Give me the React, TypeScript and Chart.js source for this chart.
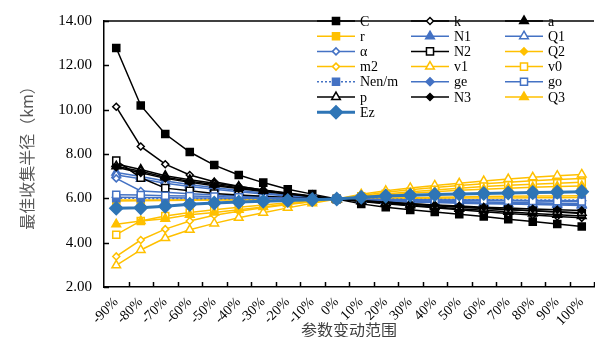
import React, { useEffect, useRef } from "react";
import { Chart, registerables } from "chart.js";
Chart.register(...registerables);

const categories = ["-90%", "-80%", "-70%", "-60%", "-50%", "-40%", "-30%", "-20%", "-10%", "0%", "10%", "20%", "30%", "40%", "50%", "60%", "70%", "80%", "90%", "100%"];
const yTicks = [2, 4, 6, 8, 10, 12, 14];

const C = [12.78, 10.19, 8.9, 8.09, 7.5, 7.05, 6.71, 6.41, 6.19, 5.97, 5.75, 5.6, 5.48, 5.38, 5.28, 5.18, 5.06, 4.95, 4.84, 4.73];
const K = [10.13, 8.34, 7.54, 7.05, 6.75, 6.55, 6.38, 6.22, 6.08, 5.97, 5.86, 5.76, 5.66, 5.57, 5.48, 5.4, 5.32, 5.25, 5.18, 5.12];
const A = [7.55, 7.3, 7.02, 6.84, 6.68, 6.53, 6.38, 6.24, 6.1, 5.97, 5.87, 5.78, 5.69, 5.61, 5.53, 5.46, 5.39, 5.32, 5.26, 5.2];
const R = [5.88, 5.89, 5.9, 5.91, 5.92, 5.93, 5.94, 5.95, 5.96, 5.97, 5.98, 5.99, 6.0, 6.0, 6.01, 6.02, 6.02, 6.03, 6.03, 6.04];
const N1 = [7.17, 6.98, 6.78, 6.62, 6.48, 6.36, 6.24, 6.14, 6.05, 5.97, 5.92, 5.88, 5.84, 5.81, 5.78, 5.76, 5.74, 5.72, 5.7, 5.68];
const Q1 = [7.05, 6.88, 6.68, 6.53, 6.41, 6.3, 6.2, 6.11, 6.03, 5.97, 5.93, 5.89, 5.86, 5.83, 5.81, 5.79, 5.77, 5.75, 5.74, 5.72];
const ALPHA = [6.9, 6.33, 6.27, 6.21, 6.16, 6.11, 6.07, 6.03, 6.0, 5.97, 5.94, 5.91, 5.89, 5.87, 5.85, 5.83, 5.81, 5.8, 5.78, 5.77];
const N2 = [7.7, 6.93, 6.46, 6.34, 6.22, 6.15, 6.09, 6.04, 6.0, 5.97, 5.9, 5.83, 5.76, 5.69, 5.62, 5.56, 5.5, 5.44, 5.38, 5.32];
const Q2 = [5.92, 5.92, 5.93, 5.94, 5.94, 5.95, 5.95, 5.96, 5.96, 5.97, 5.99, 6.01, 6.03, 6.05, 6.06, 6.08, 6.09, 6.1, 6.11, 6.12];
const M2 = [3.38, 4.12, 4.61, 4.98, 5.24, 5.42, 5.57, 5.72, 5.85, 5.97, 6.13, 6.27, 6.39, 6.49, 6.58, 6.66, 6.73, 6.79, 6.85, 6.9];
const V1 = [2.98, 3.67, 4.21, 4.58, 4.87, 5.12, 5.35, 5.57, 5.78, 5.97, 6.18, 6.34, 6.47, 6.58, 6.68, 6.78, 6.87, 6.95, 7.02, 7.08];
const V0 = [4.36, 4.98, 5.2, 5.36, 5.48, 5.6, 5.7, 5.8, 5.89, 5.97, 6.09, 6.2, 6.3, 6.38, 6.46, 6.53, 6.59, 6.64, 6.68, 6.72];
const NENM = [6.0, 6.0, 5.99, 5.99, 5.98, 5.98, 5.98, 5.97, 5.97, 5.97, 5.96, 5.96, 5.95, 5.95, 5.94, 5.94, 5.93, 5.93, 5.92, 5.92];
const GE = [6.05, 6.04, 6.03, 6.02, 6.01, 6.0, 5.99, 5.98, 5.98, 5.97, 5.96, 5.95, 5.94, 5.93, 5.92, 5.92, 5.91, 5.9, 5.9, 5.89];
const GO = [6.16, 6.15, 6.12, 6.1, 6.08, 6.05, 6.03, 6.01, 5.99, 5.97, 5.95, 5.94, 5.93, 5.92, 5.91, 5.9, 5.89, 5.88, 5.87, 5.86];
const P = [7.45, 7.22, 6.95, 6.77, 6.62, 6.48, 6.34, 6.21, 6.08, 5.97, 5.88, 5.8, 5.73, 5.66, 5.6, 5.54, 5.49, 5.44, 5.39, 5.35];
const N3 = [7.4, 7.15, 6.9, 6.72, 6.57, 6.44, 6.31, 6.19, 6.07, 5.97, 5.89, 5.82, 5.76, 5.7, 5.65, 5.6, 5.56, 5.52, 5.48, 5.45];
const Q3 = [4.83, 4.98, 5.08, 5.26, 5.36, 5.48, 5.61, 5.74, 5.86, 5.97, 6.06, 6.15, 6.23, 6.3, 6.36, 6.41, 6.46, 6.5, 6.53, 6.56];
const EZ = [5.55, 5.57, 5.64, 5.73, 5.79, 5.83, 5.87, 5.9, 5.94, 5.97, 6.05, 6.1, 6.14, 6.17, 6.2, 6.22, 6.24, 6.26, 6.28, 6.3];

const BLACK = "#000000";
const ORANGE = "#FFC000";
const BLUE = "#4472C4";
const EZBLUE = "#2E75B6";

type S = { label: string; data: number[]; color: string; shape: string; r: number; open: boolean; width?: number; dash?: number[] };
const series: S[] = [
  { label: "C", data: C, color: BLACK, shape: "rect", r: 5, open: false },
  { label: "k", data: K, color: BLACK, shape: "rectRot", r: 3.5, open: true },
  { label: "a", data: A, color: BLACK, shape: "triangle", r: 5, open: false },
  { label: "r", data: R, color: ORANGE, shape: "rect", r: 5, open: false },
  { label: "N1", data: N1, color: BLUE, shape: "triangle", r: 5, open: false },
  { label: "Q1", data: Q1, color: BLUE, shape: "triangle", r: 5, open: true },
  { label: "α", data: ALPHA, color: BLUE, shape: "rectRot", r: 3.5, open: true },
  { label: "N2", data: N2, color: BLACK, shape: "rect", r: 5, open: true },
  { label: "Q2", data: Q2, color: ORANGE, shape: "rectRot", r: 3.5, open: false },
  { label: "m2", data: M2, color: ORANGE, shape: "rectRot", r: 3.5, open: true },
  { label: "v1", data: V1, color: ORANGE, shape: "triangle", r: 5, open: true },
  { label: "v0", data: V0, color: ORANGE, shape: "rect", r: 5, open: true },
  { label: "Nen/m", data: NENM, color: BLUE, shape: "rect", r: 5, open: false, dash: [2, 2] },
  { label: "ge", data: GE, color: BLUE, shape: "rectRot", r: 4, open: false },
  { label: "go", data: GO, color: BLUE, shape: "rect", r: 5, open: true },
  { label: "p", data: P, color: BLACK, shape: "triangle", r: 5, open: true },
  { label: "N3", data: N3, color: BLACK, shape: "rectRot", r: 3.5, open: false },
  { label: "Q3", data: Q3, color: ORANGE, shape: "triangle", r: 5, open: false },
  { label: "Ez", data: EZ, color: EZBLUE, shape: "rectRot", r: 6.5, open: false, width: 3 },
];

function drawMarker(ctx: CanvasRenderingContext2D, s: S, x: number, y: number) {
  ctx.save();
  ctx.beginPath();
  const r = s.r;
  if (s.shape === "rect") {
    const h = Math.SQRT1_2 * r;
    ctx.rect(x - h, y - h, 2 * h, 2 * h);
  } else if (s.shape === "rectRot") {
    ctx.moveTo(x - r, y);
    ctx.lineTo(x, y - r);
    ctx.lineTo(x + r, y);
    ctx.lineTo(x, y + r);
    ctx.closePath();
  } else {
    let rad = 0;
    ctx.moveTo(x + Math.sin(rad) * r, y - Math.cos(rad) * r);
    rad += (2 * Math.PI) / 3;
    ctx.lineTo(x + Math.sin(rad) * r, y - Math.cos(rad) * r);
    rad += (2 * Math.PI) / 3;
    ctx.lineTo(x + Math.sin(rad) * r, y - Math.cos(rad) * r);
    ctx.closePath();
  }
  ctx.fillStyle = s.open ? "#ffffff" : s.color;
  ctx.fill();
  ctx.setLineDash([]);
  ctx.lineWidth = 1.5;
  ctx.strokeStyle = s.color;
  ctx.stroke();
  ctx.restore();
}

const framePlugin = {
  id: "frame",
  beforeDatasetsDraw(chart: any) {
    const { ctx, chartArea } = chart;
    const { left, right, top, bottom } = chartArea;
    ctx.save();
    ctx.strokeStyle = "#000";
    ctx.lineWidth = 1.5;
    ctx.beginPath();
    ctx.moveTo(left, top);
    ctx.lineTo(right, top);
    ctx.stroke();
    const ys = chart.scales.y;
    yTicks.forEach((v) => {
      const yy = Math.round(ys.getPixelForValue(v)) + 0.5;
      ctx.beginPath();
      ctx.moveTo(left, yy);
      ctx.lineTo(left + 5, yy);
      ctx.stroke();
    });
    const n = categories.length;
    const step = (right - left) / n;
    for (let i = 1; i <= n; i++) {
      const xx = Math.round(left + i * step) + 0.5;
      ctx.beginPath();
      ctx.moveTo(xx, bottom);
      ctx.lineTo(xx, bottom - 5);
      ctx.stroke();
    }
    ctx.restore();
  },
};

const legendPlugin = {
  id: "gridLegend",
  afterDraw(chart: any) {
    const { ctx } = chart;
    const cols = [317, 411, 505];
    const rowY0 = 21;
    const rowH = 15.2;
    ctx.save();
    series.forEach((s, i) => {
      const x = cols[i % 3];
      const y = rowY0 + Math.floor(i / 3) * rowH;
      ctx.beginPath();
      ctx.strokeStyle = s.color;
      ctx.lineWidth = s.width || 1.5;
      ctx.setLineDash(s.dash || []);
      ctx.moveTo(x, y);
      ctx.lineTo(x + 38, y);
      ctx.stroke();
      ctx.setLineDash([]);
      drawMarker(ctx, s, x + 19, y);
      ctx.fillStyle = "#000";
      ctx.font = "14px 'Liberation Serif'";
      ctx.textAlign = "left";
      ctx.textBaseline = "middle";
      ctx.fillText(s.label, x + 43, y + 1);
    });
    ctx.restore();
  },
};

export default function App() {
  const ref = useRef<HTMLCanvasElement>(null);
  useEffect(() => {
    const n = series.length;
    const datasets = series.map((s, i) => ({
      label: s.label,
      data: s.data,
      borderColor: s.color,
      backgroundColor: s.color,
      borderWidth: s.width || 1.5,
      borderDash: s.dash || [],
      pointStyle: s.shape,
      pointRadius: s.r,
      pointHoverRadius: s.r,
      pointBackgroundColor: s.open ? "#ffffff" : s.color,
      pointBorderColor: s.color,
      pointBorderWidth: 1.5,
      tension: 0,
      fill: false,
      order: n - i,
    }));
    const chart = new Chart(ref.current as HTMLCanvasElement, {
      type: "line",
      data: { labels: categories, datasets },
      options: {
        animation: false,
        responsive: false,
        events: [],
        layout: { padding: { top: 17, left: 0, right: 0, bottom: 0 } },
        plugins: { legend: { display: false }, tooltip: { enabled: false } },
        scales: {
          x: {
            type: "category",
            offset: true,
            grid: { display: false, drawTicks: false },
            border: { display: true, color: "#000", width: 1.5 },
            ticks: {
              font: { family: "'Liberation Serif'", size: 14 },
              color: "#000",
              minRotation: 45,
              maxRotation: 45,
              autoSkip: false,
              padding: 7,
            },
            title: {
              display: true,
              text: "参数变动范围",
              font: { family: "'Noto Sans CJK SC'", size: 16 },
              color: "#404040",
              padding: { top: 0, bottom: -3 },
            },
            afterFit: (s: any) => {
              s.height = 50;
            },
          },
          y: {
            min: 2,
            max: 14,
            ticks: {
              stepSize: 2,
              callback: (v: any) => Number(v).toFixed(2),
              font: { family: "'Liberation Serif'", size: 15 },
              color: "#000",
              padding: 12,
            },
            grid: { display: false, drawTicks: false },
            border: { display: true, color: "#000", width: 1.5 },
            title: {
              display: true,
              text: "最佳收集半径（km）",
              font: { family: "'Noto Sans CJK SC'", size: 16 },
              color: "#595959",
              padding: { top: 17, bottom: 0 },
            },
            afterFit: (s: any) => {
              s.width = 104;
            },
          },
        },
      } as any,
      plugins: [framePlugin, legendPlugin],
    });
    return () => chart.destroy();
  }, []);
  return (
    <div style={{ position: "fixed", left: 0, top: 0, width: 602, height: 337, background: "#fff" }}>
      <canvas ref={ref} width={602} height={337} style={{ display: "block" }} />
    </div>
  );
}
